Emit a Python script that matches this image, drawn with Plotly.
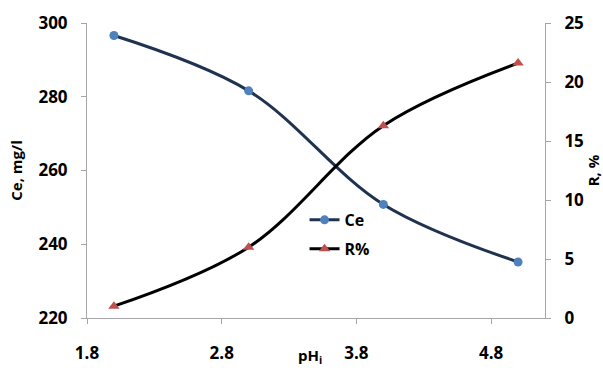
import plotly.graph_objects as go

ph = [2, 3, 4, 5]
ce = [296.6, 281.6, 250.8, 235.2]
r_pct = [1.0, 6.0, 16.3, 21.6]
x_ticks = [1.8, 2.8, 3.8, 4.8]
ce_ticks = [220, 240, 260, 280, 300]
r_ticks = [0, 5, 10, 15, 20, 25]

FONT = "Open Sans"
fig = go.Figure()
fig.add_trace(go.Scatter(
    x=ph, y=ce, name="Ce", mode="lines+markers", legendgroup="a",
    line=dict(color="#1F3350", width=3, shape="spline"),
    marker=dict(symbol="circle", size=9, color="#4F81BD"),
))
fig.add_trace(go.Scatter(
    x=ph, y=r_pct, name="R%", mode="lines+markers", yaxis="y2", legendgroup="b",
    line=dict(color="#000000", width=3, shape="spline"),
    marker=dict(symbol="triangle-up", size=10, color="#C0504D"),
))

tickfont = dict(family=FONT, size=17, color="#000", weight="bold")
titlefont = dict(family=FONT, size=15, color="#000", weight="bold")
fig.update_layout(
    width=603, height=368,
    margin=dict(l=87, r=58, t=23, b=50),
    paper_bgcolor="white", plot_bgcolor="white",
    showlegend=True,
    legend=dict(x=0.475, y=0.39, xanchor="left", yanchor="top",
                bgcolor="rgba(0,0,0,0)", font=dict(family=FONT, size=16, color="#000", weight="bold"),
                tracegroupgap=5, itemwidth=30),
    xaxis=dict(range=[1.8, 5.2], tickvals=x_ticks, ticktext=[str(v) for v in x_ticks],
               showgrid=False, zeroline=False, showline=True, linecolor="#A6A6A6", linewidth=1,
               ticks="outside", ticklen=5, tickcolor="#A6A6A6", tickfont=tickfont,
               ticklabelstandoff=15, automargin=False),
    yaxis=dict(range=[220, 300], tickvals=ce_ticks, showgrid=False, zeroline=False,
               showline=True, linecolor="#A6A6A6", linewidth=1, ticks="outside", ticklen=5,
               tickcolor="#A6A6A6", tickfont=tickfont, ticklabelstandoff=10, automargin=False,
               title=dict(text="Ce, mg/l", font=titlefont, standoff=12)),
    yaxis2=dict(range=[0, 25], tickvals=r_ticks, overlaying="y", side="right", showgrid=False,
                zeroline=False, showline=True, linecolor="#A6A6A6", linewidth=1, ticks="outside",
                ticklen=5, tickcolor="#A6A6A6", tickfont=tickfont, ticklabelstandoff=10,
                automargin=False,
                title=dict(text="R, %", font=titlefont, standoff=10)),
    annotations=[dict(text="pH<sub>i</sub>", xref="paper", yref="paper", x=0.487, y=-0.129,
                      xanchor="center", yanchor="middle", showarrow=False, font=titlefont)],
)
fig.write_html("out.html")
